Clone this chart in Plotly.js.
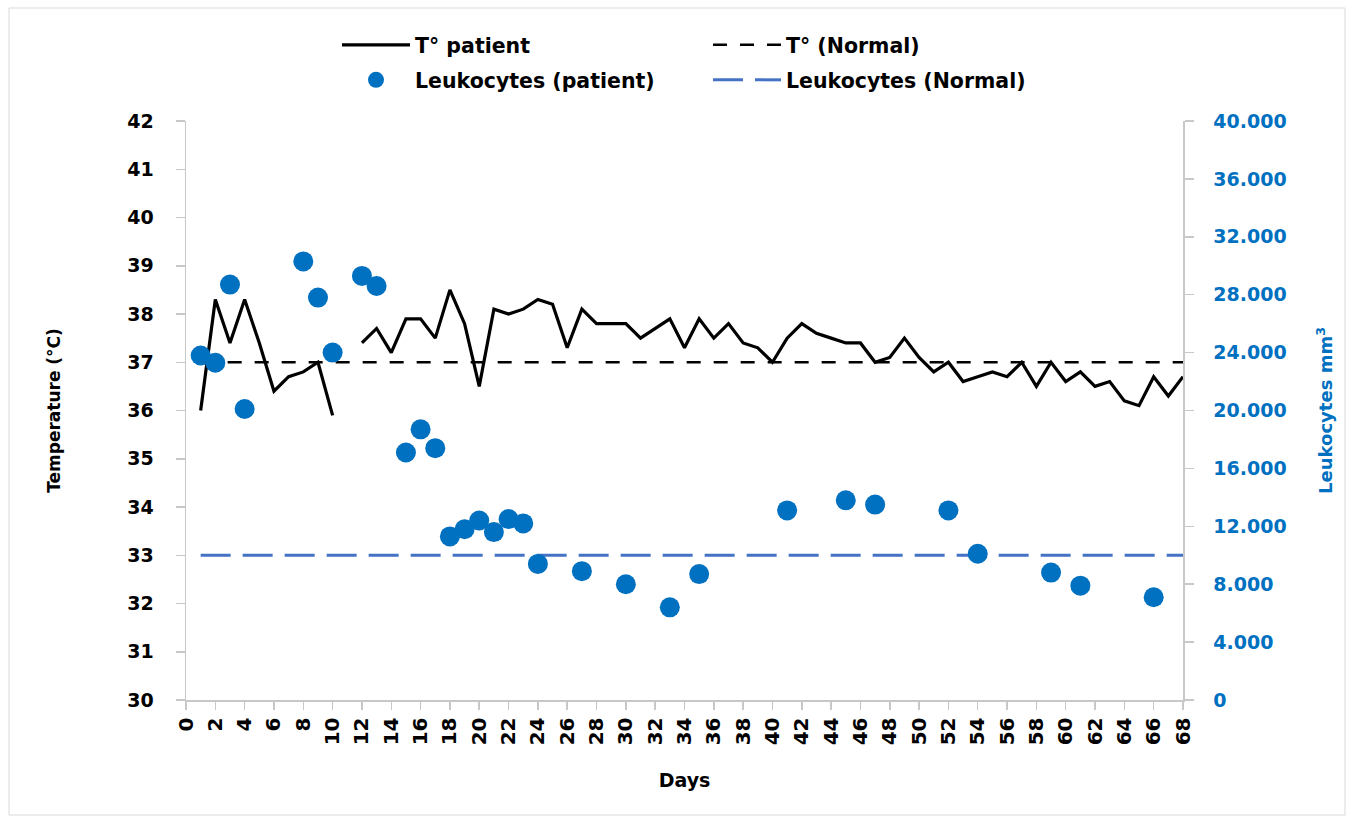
<!DOCTYPE html>
<html>
<head>
<meta charset="utf-8">
<script src="https://cdn.plot.ly/plotly-3.0.1.min.js"></script>
<style>html,body{margin:0;padding:0;background:#fff;}#chart{width:1351px;height:821px;}</style>
</head>
<body>
<div id="chart"></div>
<script>
// Temperature of patient (°C), by day (null = no reading)
var tempDays = [1,2,3,4,5,6,7,8,9,10,11,12,13,14,15,16,17,18,19,20,21,22,23,24,25,26,27,28,29,30,31,32,33,34,35,36,37,38,39,40,41,42,43,44,45,46,47,48,49,50,51,52,53,54,55,56,57,58,59,60,61,62,63,64,65,66,67,68];
var tempValues = [36.0,38.3,37.4,38.3,37.4,36.4,36.7,36.8,37.0,35.9,null,37.4,37.7,37.2,37.9,37.9,37.5,38.5,37.8,36.5,38.1,38.0,38.1,38.3,38.2,37.3,38.1,37.8,37.8,37.8,37.5,37.7,37.9,37.3,37.9,37.5,37.8,37.4,37.3,37.0,37.5,37.8,37.6,37.5,37.4,37.4,37.0,37.1,37.5,37.1,36.8,37.0,36.6,36.7,36.8,36.7,37.0,36.5,37.0,36.6,36.8,36.5,36.6,36.2,36.1,36.7,36.3,36.7];

// Leukocytes of patient (per mm3)
var leukDays = [1,2,3,4,8,9,10,12,13,15,16,17,18,19,20,21,22,23,24,27,30,33,35,41,45,47,52,54,59,61,66];
var leukValues = [23800,23300,28700,20100,30300,27800,24000,29300,28600,17100,18700,17400,11300,11800,12400,11600,12500,12200,9400,8900,8000,6400,8700,13100,13800,13500,13100,10100,8800,7900,7100];

// Normal reference levels
var normalDays = [1,68];
var tempNormal = [37,37];
var leukNormal = [10000,10000];

// Legend labels
var legendNames = ["T° patient","T° (Normal)","Leukocytes (patient)","Leukocytes (Normal)"];

var L = 186, R = 168, T = 121, B = 121, W = 1351, H = 821;
var pw = W - L - R, ph = H - T - B;
function px2x(p){ return (p - L) / pw; }
function py2y(p){ return (H - B - p) / ph; }

var FONT = "DejaVu Sans";
var BLUE = "#0070C0";

var traces = [
  {x: normalDays, y: tempNormal, type: "scatter", mode: "lines", name: legendNames[1],
   line: {color: "#000", width: 2.5, dash: "14px,13px"}, legend: "legend2", yaxis: "y"},
  {x: normalDays, y: leukNormal, type: "scatter", mode: "lines", name: legendNames[3],
   line: {color: "#4472C4", width: 3, dash: "30px,12px"}, legend: "legend4", yaxis: "y2"},
  {x: tempDays, y: tempValues, type: "scatter", mode: "lines", name: legendNames[0],
   line: {color: "#000", width: 3.2}, connectgaps: false, legend: "legend", yaxis: "y"},
  {x: leukDays, y: leukValues, type: "scatter", mode: "markers", name: legendNames[2],
   marker: {color: BLUE, size: 20}, legend: "legend3", yaxis: "y2"}
];

function leg(xp, yp){
  return {x: px2x(xp), y: py2y(yp), xanchor: "left", yanchor: "middle",
    bgcolor: "rgba(0,0,0,0)", borderwidth: 0, itemwidth: 68,
    font: {family: FONT, size: 20.5, color: "#000", weight: "bold"}};
}

var layout = {
  width: W, height: H,
  margin: {l: L, r: R, t: T, b: B, pad: 0},
  paper_bgcolor: "#fff", plot_bgcolor: "#fff",
  separators: ",.",
  showlegend: true,
  legend: leg(337, 45),
  legend2: leg(708, 45),
  legend3: leg(337, 80),
  legend4: leg(708, 80),
  xaxis: {
    range: [0, 68], tickmode: "linear", tick0: 0, dtick: 2,
    tickangle: -90, showgrid: false, zeroline: false,
    showline: true, linecolor: "#c8c8c8", linewidth: 1.5,
    ticks: "outside", ticklen: 8, tickcolor: "#c8c8c8", tickwidth: 1.5,
    tickfont: {family: FONT, size: 20, color: "#000", weight: "bold"},
    title: {text: "Days", font: {family: FONT, size: 19, color: "#000", weight: "bold"}, standoff: 29}
  },
  yaxis: {
    range: [30, 42], tickmode: "linear", tick0: 30, dtick: 1,
    showgrid: false, zeroline: false,
    showline: true, linecolor: "#c8c8c8", linewidth: 1.5,
    ticks: "outside", ticklen: 9, tickcolor: "#c8c8c8", tickwidth: 1.5,
    ticklabelstandoff: 18,
    tickfont: {family: FONT, size: 19, color: "#000", weight: "bold"},
    title: {text: "Temperature (°C)", font: {family: FONT, size: 17, color: "#000", weight: "bold"}, standoff: 62}
  },
  yaxis2: {
    range: [0, 40000], tickmode: "linear", tick0: 0, dtick: 4000,
    overlaying: "y", side: "right", tickformat: ",d",
    showgrid: false, zeroline: false,
    showline: true, linecolor: "#c8c8c8", linewidth: 1.5,
    ticks: "outside", ticklen: 9, tickcolor: "#c8c8c8", tickwidth: 1.5,
    ticklabelstandoff: 16,
    tickfont: {family: FONT, size: 19, color: BLUE, weight: "bold"},
    title: {text: "Leukocytes mm<sup>3</sup>", font: {family: FONT, size: 18, color: BLUE, weight: "bold"}, standoff: 34}
  },
  shapes: [
    {type: "rect", xref: "paper", yref: "paper", layer: "below",
     x0: px2x(9), x1: px2x(1345), y0: py2y(815), y1: py2y(8),
     line: {color: "#d9d9d9", width: 1}, fillcolor: "rgba(0,0,0,0)"}
  ]
};

Plotly.newPlot("chart", traces, layout, {displayModeBar: false, staticPlot: true});
</script>
</body>
</html>
